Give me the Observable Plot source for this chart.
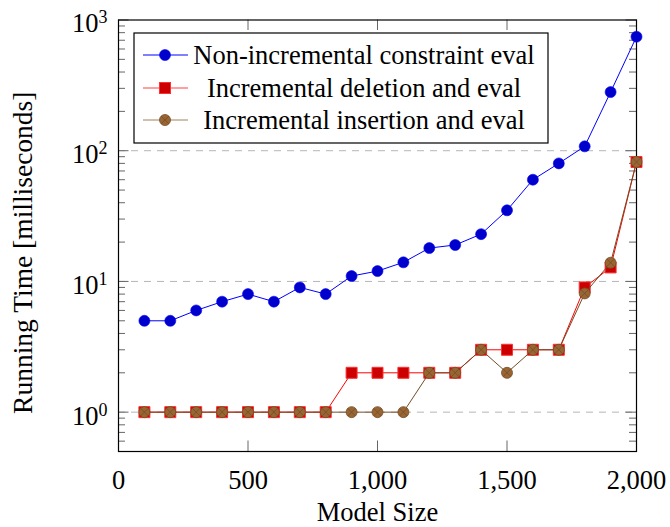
<!DOCTYPE html>
<html>
<head>
<meta charset="utf-8">
<script src="https://cdn.jsdelivr.net/npm/d3@7"></script>
<script src="https://cdn.jsdelivr.net/npm/@observablehq/plot@0.6"></script>
<style>
  html, body { margin: 0; padding: 0; background: #fff; }
  #chart { width: 670px; height: 527px; }
  #chart svg, #chart svg text { font-family: "Liberation Serif", "Times New Roman", "DejaVu Serif", serif; }
</style>
</head>
<body>
<div id="chart"></div>
<script>
// ---- data ----
const sizes   = [100,200,300,400,500,600,700,800,900,1000,1100,1200,1300,1400,1500,1600,1700,1800,1900,2000];
const nonInc  = [5,5,6,7,8,7,9,8,11,12,14,18,19,23,35,60,80,108,281,745];
const incDel  = [1,1,1,1,1,1,1,1,2,2,2,2,2,3,3,3,3,9,12.8,82];
const incIns  = [1,1,1,1,1,1,1,1,1,1,1,2,2,3,2,3,3,8.1,13.9,82];
const seriesNames = ["Non-incremental constraint eval", "Incremental deletion and eval", "Incremental insertion and eval"];
const xTicks = [0, 500, 1000, 1500, 2000];
const yMajor = [1, 10, 100, 1000];
const yMinor = [0.5,0.6,0.7,0.8,0.9, 2,3,4,5,6,7,8,9, 20,30,40,50,60,70,80,90, 200,300,400,500,600,700,800,900];
const gridY = [1, 10, 100];
const xLabel = "Model Size";
const yLabel = "Running Time [milliseconds]";

const rows = (vals) => sizes.map((x, i) => ({x, y: vals[i]}));
const dBlue = rows(nonInc), dRed = rows(incDel), dBrown = rows(incIns);

const otimes = {
  draw(ctx, size) {
    const r = Math.sqrt(size / Math.PI);
    ctx.moveTo(r, 0);
    ctx.arc(0, 0, r, 0, 2 * Math.PI);
    const d = r * Math.SQRT1_2;
    ctx.moveTo(-d, -d); ctx.lineTo(d, d);
    ctx.moveTo(-d, d); ctx.lineTo(d, -d);
  }
};

const W = 670, H = 527, mL = 118, mR = 34, mT = 19.5, mB = 76;
const pw = W - mL - mR, ph = H - mT - mB;
const majLen = 10.5, minLen = 7;
const fs = 26.5;
const font = '"Liberation Serif", "Times New Roman", "DejaVu Serif", serif';
const tickColor = "#666";

const chart = Plot.plot({
  width: W, height: H,
  marginLeft: mL, marginRight: mR, marginTop: mT, marginBottom: mB,
  style: {"font-family": font, "font-size": fs + "px", "background": "white", "color": "black"},
  x: {domain: [0, 2000]},
  y: {type: "log", domain: [0.5, 1000]},
  marks: [
    Plot.ruleY(gridY, {stroke: "#b5b5b5", strokeWidth: 1, strokeDasharray: "7,6"}),
    // inner ticks
    Plot.tickX(xTicks, {x: d => d, insetTop: ph - majLen, stroke: tickColor}),
    Plot.tickX(xTicks, {x: d => d, insetBottom: ph - majLen, stroke: tickColor}),
    Plot.tickY(yMajor, {y: d => d, insetRight: pw - majLen, stroke: tickColor}),
    Plot.tickY(yMajor, {y: d => d, insetLeft: pw - majLen, stroke: tickColor}),
    Plot.tickY(yMinor, {y: d => d, insetRight: pw - minLen, stroke: tickColor}),
    Plot.tickY(yMinor, {y: d => d, insetLeft: pw - minLen, stroke: tickColor}),
    Plot.frame({stroke: "black", strokeWidth: 1.2}),
    Plot.axisX({ticks: xTicks, tickSize: 0, tickPadding: 18.5, tickFormat: d3.format(","), label: null, fontSize: fs}),
    Plot.axisY({ticks: yMajor, tickSize: 0, tickPadding: 11, dy: 4, tickFormat: d => "10^" + Math.round(Math.log10(d)), label: null, fontSize: fs}),
    Plot.text([xLabel], {text: d => d, frameAnchor: "bottom", lineAnchor: "middle", dy: 61, fontSize: fs}),
    Plot.text([yLabel], {text: d => d, frameAnchor: "left", textAnchor: "middle", lineAnchor: "middle", rotate: -90, dx: -95, dy: 17, fontSize: 27.5}),
    // series
    Plot.line(dBlue, {x: "x", y: "y", stroke: "#0000ff", strokeWidth: 1}),
    Plot.dot(dBlue, {x: "x", y: "y", r: 5.5, fill: "#0000cc", stroke: "#0000ff", strokeWidth: 0.6}),
    Plot.line(dRed, {x: "x", y: "y", stroke: "#ff0000", strokeWidth: 1}),
    Plot.dot(dRed, {x: "x", y: "y", r: 6.2, symbol: "square", fill: "#cc0000", stroke: "#ff3030", strokeWidth: 1}),
    Plot.line(dBrown, {x: "x", y: "y", stroke: "#734d26", strokeWidth: 1}),
    Plot.dot(dBrown, {x: "x", y: "y", r: 5.5, symbol: otimes, fill: "#996633", stroke: "#734d26", strokeWidth: 0.8})
  ]
});

// superscript exponents on y tick labels
d3.select(chart).selectAll("g[aria-label='y-axis tick label'] text").each(function() {
  const t = d3.select(this);
  const s = t.text();
  const [base, exp] = s.split("^");
  t.text(null);
  t.append("tspan").text(base);
  t.append("tspan").attr("dy", "-9").attr("font-size", "18px").text(exp);
});

// legend inside plot
const svg = d3.select(chart);
const lg = svg.append("g").attr("class", "legend").style("font-family", font).style("font-size", fs + "px");
lg.append("rect").attr("x", 134).attr("y", 33).attr("width", 414).attr("height", 110)
  .attr("fill", "white").attr("stroke", "black").attr("stroke-width", 1.2);
const legendRows = [
  {name: seriesNames[0], line: "#0000ff", y: 55, kind: "circle", fill: "#0000cc", stroke: "#0000ff"},
  {name: seriesNames[1], line: "#ff4040", y: 88, kind: "square", fill: "#cc0000", stroke: "#ff3030"},
  {name: seriesNames[2], line: "#a08060", y: 120, kind: "otimes", fill: "#996633", stroke: "#734d26"}
];
for (const r of legendRows) {
  lg.append("line").attr("x1", 143).attr("x2", 188).attr("y1", r.y).attr("y2", r.y)
    .attr("stroke", r.line).attr("stroke-width", 1);
  if (r.kind === "circle") {
    lg.append("circle").attr("cx", 165).attr("cy", r.y).attr("r", 5.5).attr("fill", r.fill).attr("stroke", r.stroke).attr("stroke-width", 0.6);
  } else if (r.kind === "square") {
    lg.append("rect").attr("x", 165 - 5.5).attr("y", r.y - 5.5).attr("width", 11).attr("height", 11).attr("fill", r.fill).attr("stroke", r.stroke);
  } else {
    lg.append("path").attr("transform", `translate(165,${r.y})`)
      .attr("d", d3.symbol(otimes, Math.PI * 5.5 * 5.5)())
      .attr("fill", r.fill).attr("stroke", r.stroke).attr("stroke-width", 0.8);
  }
  lg.append("text").attr("x", 364).attr("y", r.y).attr("dy", "0.33em").attr("text-anchor", "middle").text(r.name);
}

document.getElementById("chart").appendChild(chart);
</script>
</body>
</html>
